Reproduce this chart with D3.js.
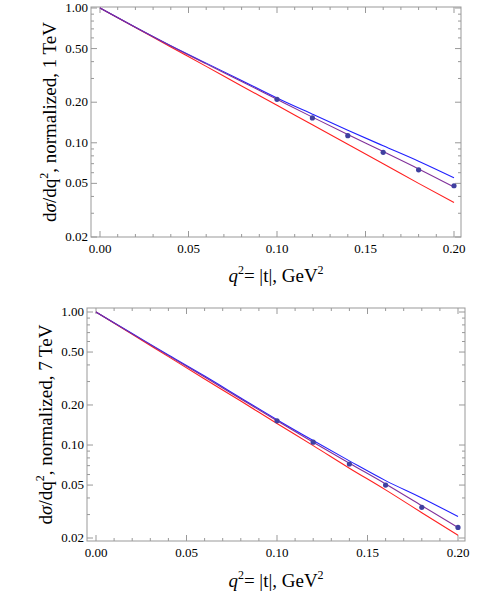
<!DOCTYPE html><html><head><meta charset="utf-8"><script src="https://cdn.jsdelivr.net/npm/d3@7"></script>
<style>body{margin:0;background:#fff}svg text{font-family:"Times New Roman","Liberation Serif","DejaVu Serif",serif}</style></head><body><svg id="s" width="500" height="591"></svg>
<script>
const qGrid=[0,0.02,0.04,0.06,0.08,0.1,0.12,0.14,0.16,0.18,0.2];
const red1=[1,.717,.514,.369,.264,.19,.136,.0976,.07,.05,.036];
const blue1=[1,.72,.525,.39,.29,.215,.163,.124,.095,.073,.055];
const purple1=[1,.72,.523,.385,.285,.21,.155,.115,.086,.064,.047];
const ptsQ=[0.1,0.12,0.14,0.16,0.18,0.2];
const pts1=[.21,.153,.113,.085,.063,.048];
const red7=[1,.68,.462,.314,.214,.145,.099,.067,.046,.031,.021];
const blue7=[1,.69,.475,.33,.226,.155,.108,.076,.054,.04,.029];
const purple7=[1,.685,.47,.325,.222,.152,.105,.073,.051,.035,.024];
const pts7=[.152,.105,.072,.050,.034,.024];
const xTicks=[0,0.05,0.1,0.15,0.2];
const yTicks=[0.02,0.05,0.1,0.2,0.5,1];
const svg=d3.select("#s");
const FF="'Times New Roman','Liberation Serif','DejaVu Serif',serif";
function panel(o){
 const g=svg.append("g").attr("font-family",FF);
 const x=d3.scaleLinear().domain([0,0.2]).range([o.x0,o.x1]);
 const y=d3.scaleLog().domain([0.02,1]).range([o.y0,o.y1]);
 const L=o.fl,R=o.fr,T=o.ft,B=o.fb;
 g.append("rect").attr("x",L).attr("y",T).attr("width",R-L).attr("height",B-T).attr("fill","none").attr("stroke","#999").attr("stroke-width",1);
 const minorX=d3.range(0,0.2001,0.01);
 minorX.forEach(v=>{const maj=xTicks.some(t=>Math.abs(t-v)<1e-9);const len=maj?6:3;
  g.append("line").attr("x1",x(v)).attr("x2",x(v)).attr("y1",B).attr("y2",B-len).attr("stroke","#999");
  g.append("line").attr("x1",x(v)).attr("x2",x(v)).attr("y1",T).attr("y2",T+len).attr("stroke","#999");});
 const minorY=[0.03,0.04,0.06,0.07,0.08,0.09,0.3,0.4,0.6,0.7,0.8,0.9];
 minorY.concat(yTicks).forEach(v=>{const maj=yTicks.includes(v);const len=maj?6:3;
  g.append("line").attr("y1",y(v)).attr("y2",y(v)).attr("x1",L).attr("x2",L+len).attr("stroke","#999");
  g.append("line").attr("y1",y(v)).attr("y2",y(v)).attr("x1",R).attr("x2",R-len).attr("stroke","#999");});
 xTicks.forEach(v=>g.append("text").attr("x",x(v)).attr("y",B+16).attr("text-anchor","middle").attr("font-size",13).text(v.toFixed(2)));
 yTicks.forEach(v=>g.append("text").attr("x",L-3).attr("y",y(v)+4).attr("text-anchor","end").attr("font-size",13).text(v.toFixed(2)));
 const line=d3.line().x((d,i)=>x(qGrid[i])).y(d=>y(d)).curve(d3.curveMonotoneX);
 [[o.red,"#ff2020"],[o.blue,"#2020ff"],[o.purple,"#80309a"]].forEach(([d,c])=>g.append("path").attr("d",line(d)).attr("fill","none").attr("stroke",c).attr("stroke-width",1.1));
 o.pts.forEach((v,i)=>g.append("circle").attr("cx",x(ptsQ[i])).attr("cy",y(v)).attr("r",2.6).attr("fill","#4040a0"));
 const xl=g.append("text").attr("x",(L+R)/2).attr("y",o.xly).attr("text-anchor","middle").attr("font-size",19);
 xl.append("tspan").attr("font-style","italic").text("q");xl.append("tspan").attr("font-size",12).attr("dy",-8).text("2");
 xl.append("tspan").attr("dy",8).text("= |t|, GeV");xl.append("tspan").attr("font-size",12).attr("dy",-8).text("2");
 const yl=g.append("text").attr("transform",`translate(${o.ylx},${(T+B)/2}) rotate(-90)`).attr("text-anchor","middle").attr("font-size",19);
 yl.append("tspan").text("d");yl.append("tspan").attr("font-style","italic").text("σ");yl.append("tspan").text("/dq");
 yl.append("tspan").attr("font-size",12).attr("dy",-8).text("2");yl.append("tspan").attr("dy",8).text(", normalized, "+o.E);
}
panel({x0:100,x1:454,y0:237,y1:8,fl:91,fr:461,ft:7,fb:237,red:red1,blue:blue1,purple:purple1,pts:pts1,xly:282,ylx:56,E:"1 TeV"});
panel({x0:96,x1:458,y0:538,y1:312,fl:87,fr:465,ft:308,fb:541,red:red7,blue:blue7,purple:purple7,pts:pts7,xly:587,ylx:52,E:"7 TeV"});
</script></body></html>
